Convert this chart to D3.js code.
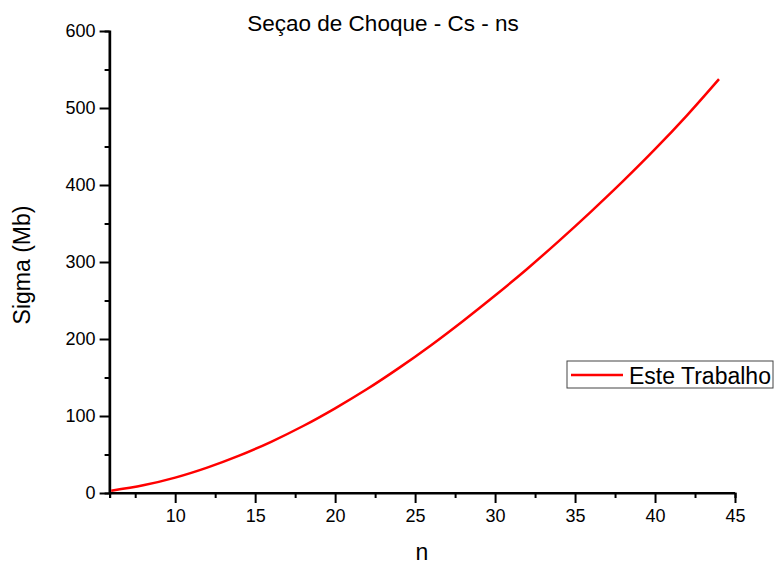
<!DOCTYPE html>
<html>
<head>
<meta charset="utf-8">
<script src="https://cdn.jsdelivr.net/npm/d3@7"></script>
<style>
  body { margin: 0; background: #fff; }
  svg { display: block; font-family: "Liberation Sans", Arial, sans-serif; }
</style>
</head>
<body>
<svg id="chart" width="776" height="564"></svg>
<script>
// Cross-section values (Mb) versus n
const nValues = [6, 8, 10, 12, 14, 16, 18, 20, 22, 24, 26, 28, 30, 32, 34, 36, 38, 40, 42, 44];
const sigmaValues = [3, 10, 20, 33, 48.5, 66.5, 87, 110, 135, 162.5, 192, 223.5, 256.5, 291, 327.5, 365.5, 405, 446.5, 490.5, 537.5];
const xTickValues = [10, 15, 20, 25, 30, 35, 40, 45];
const xMinorTicks = [7.5, 12.5, 17.5, 22.5, 27.5, 32.5, 37.5, 42.5];
const yTickValues = [0, 100, 200, 300, 400, 500, 600];
const yMinorTicks = [50, 150, 250, 350, 450, 550];
const seriesName = "Este Trabalho";

const svg = d3.select("#chart");
const plotLeft = 109.6, plotRight = 735, plotTop = 31, plotBottom = 493;

const x = d3.scaleLinear().domain([5.9, 45]).range([plotLeft, plotRight]);
const y = d3.scaleLinear().domain([0, 600]).range([plotBottom, plotTop]);

// Title
svg.append("text")
  .attr("x", 383).attr("y", 31)
  .attr("text-anchor", "middle")
  .attr("font-size", 22.5)
  .text("Seçao de Choque - Cs - ns");

// X axis
const xAxis = svg.append("g").attr("transform", `translate(0,${plotBottom})`);
xAxis.call(d3.axisBottom(x).tickValues(xTickValues).tickSize(10).tickPadding(6).tickFormat(d3.format("d")));
xAxis.append("g").call(d3.axisBottom(x).tickValues(xMinorTicks).tickSize(5).tickFormat(""));

// Y axis
const yAxis = svg.append("g").attr("transform", `translate(${plotLeft},0)`);
yAxis.call(d3.axisLeft(y).tickValues(yTickValues).tickSize(10).tickPadding(4).tickFormat(d3.format("d")));
yAxis.append("g").call(d3.axisLeft(y).tickValues(yMinorTicks).tickSize(5).tickFormat(""));

svg.selectAll(".domain").attr("stroke", "#000").attr("stroke-width", 2.2);
svg.selectAll(".tick line").attr("stroke", "#000").attr("stroke-width", 2);
svg.selectAll(".tick text").attr("font-size", 18).attr("fill", "#000")
  .attr("font-family", "'Liberation Sans', Arial, sans-serif");
// Minor-tick axes only contribute ticks
xAxis.select("g").select(".domain").remove();
yAxis.select("g").select(".domain").remove();
// Plain axis lines without outer end caps
xAxis.select(".domain").attr("d", `M${plotLeft},0H${plotRight}`);
yAxis.select(".domain").attr("d", `M0,${plotBottom}V${plotTop}`);

// Axis titles
svg.append("text")
  .attr("transform", "translate(30,265) rotate(-90)")
  .attr("text-anchor", "middle")
  .attr("font-size", 23)
  .text("Sigma (Mb)");
svg.append("text")
  .attr("x", 422).attr("y", 560)
  .attr("text-anchor", "middle")
  .attr("font-size", 23)
  .text("n");

// Series curve
const data = nValues.map((n, i) => ({ n, s: sigmaValues[i] }));
svg.append("path")
  .datum(data)
  .attr("fill", "none")
  .attr("stroke", "#ff0000")
  .attr("stroke-width", 2.5)
  .attr("d", d3.line().x(d => x(d.n)).y(d => y(d.s)).curve(d3.curveCatmullRom));

// Legend
const lg = svg.append("g").attr("transform", "translate(567,361)");
lg.append("rect").attr("width", 206).attr("height", 27)
  .attr("fill", "#fff").attr("stroke", "#444").attr("stroke-width", 1);
lg.append("line").attr("x1", 4).attr("x2", 56).attr("y1", 14).attr("y2", 14)
  .attr("stroke", "#ff0000").attr("stroke-width", 2.5);
lg.append("text").attr("x", 62).attr("y", 22.5)
  .attr("font-size", 23).text(seriesName);
</script>
</body>
</html>
